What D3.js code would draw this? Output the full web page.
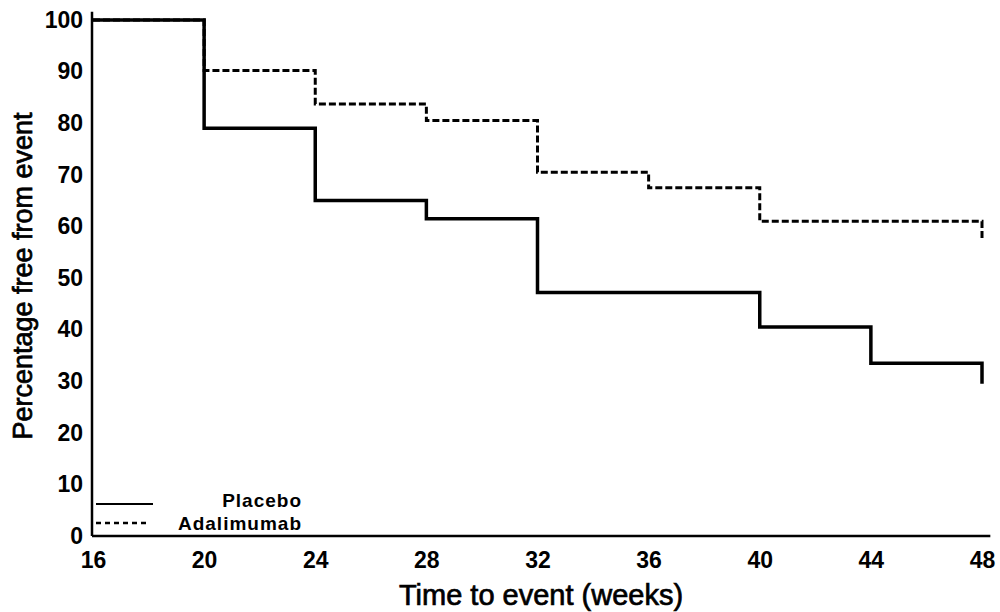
<!DOCTYPE html>
<html>
<head>
<meta charset="utf-8">
<script src="https://cdn.jsdelivr.net/npm/d3@7"></script>
<style>
  body { margin: 0; background: #fff; }
  text { font-family: "Liberation Sans", Arial, sans-serif; fill: #000; }
</style>
</head>
<body>
<div id="chart-area"></div>
<script>
// step data (weeks, % free from event)
var placeboWeeks = [16, 20, 24, 28, 32, 40, 44, 48, 48];
var placeboPct   = [100, 79, 65, 61.5, 47.2, 40.5, 33.5, 33.5, 29.5];
var adaWeeks = [16, 20, 24, 28, 32, 36, 40, 48, 48];
var adaPct   = [100, 90.2, 83.7, 80.5, 70.5, 67.5, 61, 61, 57.5];

var xTicks = [16, 20, 24, 28, 32, 36, 40, 44, 48];
var yTicks = [0, 10, 20, 30, 40, 50, 60, 70, 80, 90, 100];
var legendNames = ["Placebo", "Adalimumab"];

var w = 1000, h = 612;

var svg = d3.select("#chart-area").append("svg")
	.attr("width", w)
	.attr("height", h);

var x = d3.scaleLinear().domain([16, 48]).range([93, 982]);
var y = d3.scaleLinear().domain([0, 100]).range([536, 20]);

// axes (no tick marks, just labels)
var xAxis = d3.axisBottom(x).tickValues(xTicks).tickSize(0).tickPadding(16);
var yAxis = d3.axisLeft(y).tickValues(yTicks).tickSize(0).tickPadding(10);

svg.append("g")
	.attr("transform", "translate(0," + y(0) + ")")
	.call(xAxis);
svg.append("g")
	.attr("transform", "translate(" + x(16) + ",0)")
	.call(yAxis);

svg.selectAll(".domain").remove();
svg.selectAll(".tick text")
	.style("font-size", "23px")
	.style("font-weight", "bold")
	.attr("fill", "#000");

// axis lines, a little longer than the data range
svg.append("line")
	.attr("x1", x(16) - 1).attr("x2", x(48.3))
	.attr("y1", y(0)).attr("y2", y(0))
	.attr("stroke", "#000").attr("stroke-width", 2.5);
svg.append("line")
	.attr("x1", x(16) - 1).attr("x2", x(16) - 1)
	.attr("y1", y(0)).attr("y2", y(101.6))
	.attr("stroke", "#000").attr("stroke-width", 2.5);

// survival curves
var line = d3.line()
	.x(function(d){ return x(d[0]); })
	.y(function(d){ return y(d[1]); })
	.curve(d3.curveStepAfter);

var placebo = placeboWeeks.map(function(d, i){ return [d, placeboPct[i]]; });
var ada = adaWeeks.map(function(d, i){ return [d, adaPct[i]]; });

svg.append("path")
	.datum(placebo)
	.attr("d", line)
	.attr("fill", "none")
	.attr("stroke", "#000")
	.attr("stroke-width", 3.5);

svg.append("path")
	.datum(ada)
	.attr("d", line)
	.attr("fill", "none")
	.attr("stroke", "#000")
	.attr("stroke-width", 3)
	.attr("stroke-dasharray", "7,3");

// legend
svg.append("line")
	.attr("x1", 96).attr("x2", 153)
	.attr("y1", 504).attr("y2", 504)
	.attr("stroke", "#000").attr("stroke-width", 2);
svg.append("line")
	.attr("x1", 96).attr("x2", 148)
	.attr("y1", 523).attr("y2", 523)
	.attr("stroke", "#000").attr("stroke-width", 2.5)
	.attr("stroke-dasharray", "5,4");

svg.selectAll(".legend-text")
	.data(legendNames)
	.enter().append("text")
	.attr("class", "legend-text")
	.attr("x", 302)
	.attr("y", function(d, i){ return 507 + i * 23; })
	.attr("text-anchor", "end")
	.style("font-size", "19px")
	.style("font-weight", "bold")
	.style("letter-spacing", "1px")
	.text(function(d){ return d; });

// axis titles
svg.append("text")
	.attr("x", 541)
	.attr("y", 605)
	.attr("text-anchor", "middle")
	.style("font-size", "29px")
	.style("stroke", "#000").style("stroke-width", 0.7)
	.text("Time to event (weeks)");

svg.append("text")
	.attr("transform", "translate(32,276) rotate(-90)")
	.attr("text-anchor", "middle")
	.style("font-size", "27px")
	.style("stroke", "#000").style("stroke-width", 0.7)
	.text("Percentage free from event");
</script>
</body>
</html>
